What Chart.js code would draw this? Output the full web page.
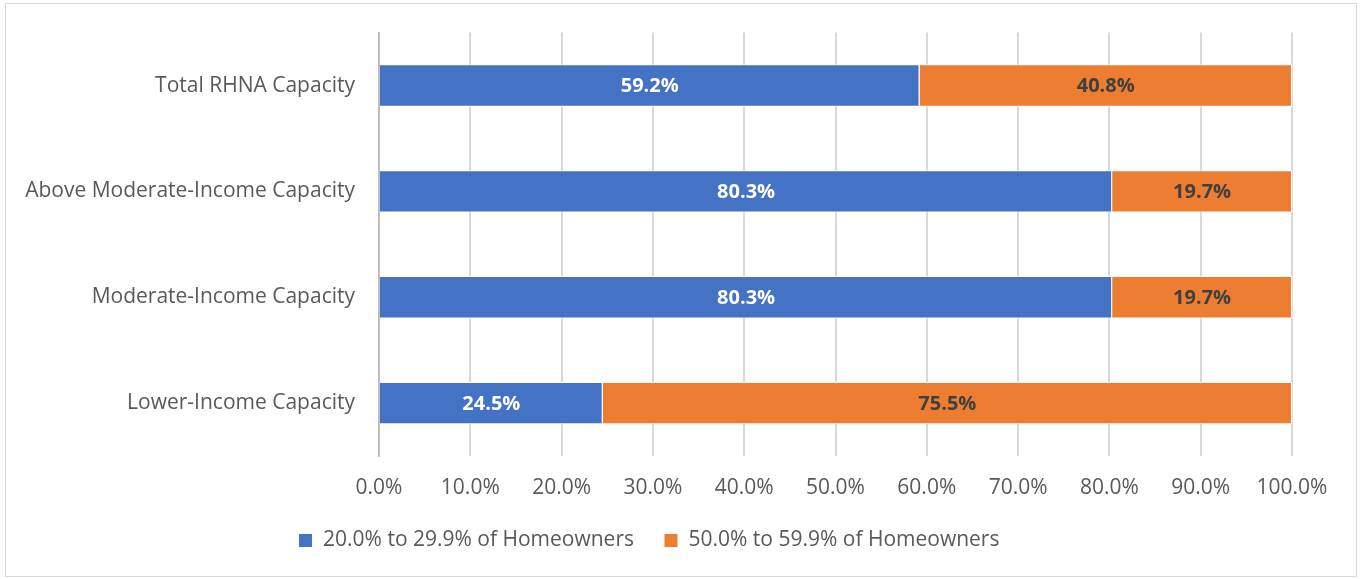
<!DOCTYPE html>
<html>
<head>
<meta charset="utf-8">
<script src="https://cdn.jsdelivr.net/npm/chart.js@4"></script>
<style>
  body { margin: 0; background: #fff; }
  #box {
    position: absolute; left: 5px; top: 3px;
    width: 1350px; height: 572px;
    border: 1px solid #d9d9d9;
  }
</style>
</head>
<body>
<div id="box"><canvas id="chart" width="1350" height="572"></canvas></div>
<script>
// categories, top to bottom
const categories = [
    'Total RHNA Capacity',
    'Above Moderate-Income Capacity',
    'Moderate-Income Capacity',
    'Lower-Income Capacity'
];
const seriesNames = ['20.0% to 29.9% of Homeowners', '50.0% to 59.9% of Homeowners'];
const share20to29 = [59.2, 80.3, 80.3, 24.5];
const share50to59 = [40.8, 19.7, 19.7, 75.5];
const labelColors = ['#ffffff', '#404040'];

const fontFamily = '"Open Sans", sans-serif';

// writes the value in the middle of each bar segment
const barLabels = {
    id: 'barLabels',
    afterDatasetsDraw(chart) {
        const ctx = chart.ctx;
        ctx.save();
        ctx.font = 'bold 20px ' + fontFamily;
        ctx.textAlign = 'center';
        ctx.textBaseline = 'middle';
        chart.data.datasets.forEach((ds, i) => {
            const meta = chart.getDatasetMeta(i);
            ctx.fillStyle = labelColors[i];
            meta.data.forEach((bar, j) => {
                const x = (bar.x + bar.base) / 2;
                ctx.fillText(ds.data[j].toFixed(1) + '%', x, bar.y + 1);
            });
        });
        ctx.restore();
    }
};

new Chart(document.getElementById('chart'), {
    type: 'bar',
    data: {
        labels: categories,
        datasets: [{
            label: seriesNames[0],
            data: share20to29,
            backgroundColor: '#4472C4',
            borderColor: '#ffffff',
            borderWidth: 1,
            barPercentage: 0.4,
            categoryPercentage: 1
        }, {
            label: seriesNames[1],
            data: share50to59,
            backgroundColor: '#ED7D31',
            borderColor: '#ffffff',
            borderWidth: 1,
            barPercentage: 0.4,
            categoryPercentage: 1
        }]
    },
    options: {
        indexAxis: 'y',
        responsive: false,
        animation: false,
        layout: { padding: { left: 0, right: 64, top: 23, bottom: 15 } },
        scales: {
            x: {
                stacked: true,
                min: 0,
                max: 100,
                ticks: {
                    stepSize: 10,
                    color: '#595959',
                    font: { family: fontFamily, size: 21 },
                    padding: 19,
                    callback: v => v.toFixed(1) + '%'
                },
                grid: { color: '#d9d9d9', lineWidth: 2, drawTicks: false },
                border: { display: false },
                afterFit(scale) { scale.height = 44; }
            },
            y: {
                stacked: true,
                ticks: {
                    color: '#595959',
                    font: { family: fontFamily, size: 21 },
                    padding: 16
                },
                grid: { display: false },
                border: { color: '#bfbfbf', width: 2 },
                afterFit(scale) { scale.width = 373; }
            }
        },
        plugins: {
            legend: {
                position: 'bottom',
                labels: {
                    color: '#595959',
                    font: { family: fontFamily, size: 21 },
                    boxWidth: 14,
                    boxHeight: 14,
                    padding: 30,
                    useBorderRadius: false
                }
            },
            tooltip: { enabled: false }
        }
    },
    plugins: [barLabels]
});
</script>
</body>
</html>
